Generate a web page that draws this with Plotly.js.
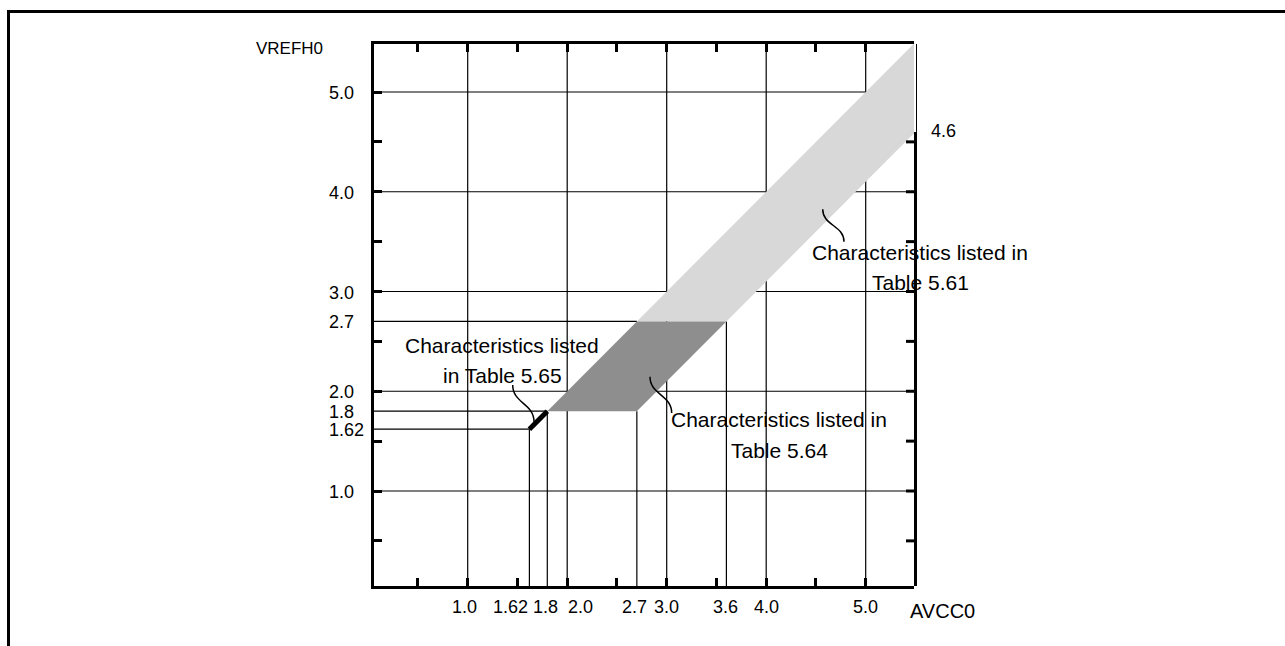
<!DOCTYPE html>
<html>
<head>
<meta charset="utf-8">
<script src="https://cdn.plot.ly/plotly-3.0.1.min.js"></script>
<style>html,body{margin:0;padding:0;background:#fff;}#chart{width:1285px;height:646px;}</style>
</head>
<body>
<div id="chart"></div>
<script>
// ---- data ----
const lightBandX = [2.7, 5.5, 5.5, 3.6];   // Table 5.61 region (AVCC0)
const lightBandY = [2.7, 5.5, 4.6, 2.7];   // (VREFH0)
const darkBandX  = [1.8, 2.7, 3.6, 2.7];   // Table 5.64 region
const darkBandY  = [1.8, 2.7, 2.7, 1.8];
const lineX      = [1.62, 1.8];            // Table 5.65 segment
const lineY      = [1.62, 1.8];

const gridVals   = [1, 2, 3, 4, 5];
const minorTicks = [0.5, 1, 1.5, 2, 2.5, 3, 3.5, 4, 4.5, 5];
const rightTicks = [0.5, 1, 1.5, 2, 2.5, 3, 3.5, 4, 4.5];
const vRefX      = [1.62, 1.8, 2.7, 3.6];  // vertical reference lines
const vRefTop    = [1.62, 1.8, 1.8, 2.7];
const hRefY      = [1.62, 1.8, 2.7];       // horizontal reference lines
const hRefEnd    = [1.62, 1.8, 2.7];
const rightBreak = 4.6;

const xTickVals  = [1, 1.62, 1.8, 2, 2.7, 3, 3.6, 4, 5];
const xTickText  = ['1.0', '1.62', '1.8', '2.0', '2.7', '3.0', '3.6', '4.0', '5.0'];
const yTickVals  = [5, 4, 3, 2.7, 2, 1.8, 1.62, 1];
const yTickText  = ['5.0', '4.0', '3.0', '2.7', '2.0', '1.8', '1.62', '1.0'];

const noteLines = [
  ['Characteristics listed in', 'Table 5.61'],
  ['Characteristics listed', 'in Table 5.65'],
  ['Characteristics listed in', 'Table 5.64']
];

// ---- layout geometry (pixels) ----
const W = 1285, H = 646;
const M = {l: 374, r: 371, t: 44, b: 60};
const XR = [0.0583, 5.4854];
const YR = [0.0476, 5.4812];
const PW = W - M.l - M.r, PH = H - M.t - M.b;
const px2x = p => XR[0] + (p - M.l) * (XR[1] - XR[0]) / PW;
const py2y = p => YR[1] - (p - M.t) * (YR[1] - YR[0]) / PH;
const px2paper = p => (p - M.l) / PW;
const py2paper = p => (H - M.b - p) / PH;

const FONT = '"Liberation Sans", Arial, Helvetica, sans-serif';

// leader curves, pixel anchors (start near label -> end on region)
const leaders = [
  [[822.7, 209.3], [844, 241.7]],
  [[512.7, 385], [534, 421.7]],
  [[650, 376.7], [671.7, 413]]
];
const notePos = [
  [[920, 252], [920, 282]],
  [[502, 345], [502, 375]],
  [[779, 420], [779, 450]]
];
const xLabelShift = [-3.5, -19, -2, 13, -2, 0, -1, 0, 0];

// ---- traces ----
const traces = [
  {x: lightBandX, y: lightBandY, type: 'scatter', mode: 'lines', fill: 'toself',
   fillcolor: '#d8d8d8', line: {width: 0, color: '#d8d8d8'}, hoverinfo: 'skip'},
  {x: darkBandX, y: darkBandY, type: 'scatter', mode: 'lines', fill: 'toself',
   fillcolor: '#8e8e8e', line: {width: 0, color: '#8e8e8e'}, hoverinfo: 'skip'},
  {x: lineX, y: lineY, type: 'scatter', mode: 'lines',
   line: {width: 5, color: '#000'}, hoverinfo: 'skip'}
];

// ---- shapes ----
const shapes = [];
gridVals.forEach(v => {
  shapes.push({type: 'line', xref: 'x', yref: 'paper', x0: v, x1: v, y0: 0, y1: 1, layer: 'below', line: {color: '#000', width: 1.2}});
  shapes.push({type: 'line', xref: 'paper', yref: 'y', x0: 0, x1: 1, y0: v, y1: v, layer: 'below', line: {color: '#000', width: 1.2}});
});
vRefX.forEach((v, i) => shapes.push({type: 'line', xref: 'x', yref: 'y', x0: v, x1: v, y0: YR[0], y1: vRefTop[i], layer: 'below', line: {color: '#000', width: 1.2}}));
hRefY.forEach((v, i) => shapes.push({type: 'line', xref: 'x', yref: 'y', x0: XR[0], x1: hRefEnd[i], y0: v, y1: v, layer: 'below', line: {color: '#000', width: 1.2}}));

// right axis (thick below 4.6, thin above)
shapes.push({type: 'line', xref: 'paper', yref: 'y', xsizemode: 'pixel', xanchor: 1, x0: 1.5, x1: 1.5, y0: YR[0] - 0.02, y1: rightBreak, line: {color: '#000', width: 3}});
shapes.push({type: 'line', xref: 'paper', yref: 'y', xsizemode: 'pixel', xanchor: 1, x0: 2.5, x1: 2.5, y0: rightBreak, y1: YR[1] + 0.04, line: {color: '#000', width: 1}});
rightTicks.forEach(v => shapes.push({type: 'line', xref: 'paper', yref: 'y', xsizemode: 'pixel', xanchor: 1, x0: -8, x1: 0, y0: v, y1: v, line: {color: '#000', width: 3}}));

// leader curves
leaders.forEach(([a, b]) => {
  const x0 = px2x(a[0]), y0 = py2y(a[1]), x1 = px2x(b[0]), y1 = py2y(b[1]);
  const ym = (y0 + y1) / 2;
  shapes.push({type: 'path', xref: 'x', yref: 'y', layer: 'above',
    path: `M ${x0},${y0} C ${x0},${ym} ${x1},${ym} ${x1},${y1}`,
    line: {color: '#000', width: 1.5}});
});

// outer frame (top and left)
shapes.push({type: 'line', xref: 'paper', yref: 'paper', x0: px2paper(7), x1: px2paper(1285), y0: py2paper(11.5), y1: py2paper(11.5), line: {color: '#000', width: 3}});
shapes.push({type: 'line', xref: 'paper', yref: 'paper', x0: px2paper(8.5), x1: px2paper(8.5), y0: py2paper(10), y1: py2paper(646), line: {color: '#000', width: 3}});

// ---- annotations ----
const ann = [];
xTickVals.forEach((v, i) => ann.push({x: v, y: 0, xref: 'x', yref: 'paper', text: xTickText[i], showarrow: false,
  xanchor: 'center', yanchor: 'middle', xshift: xLabelShift[i], yshift: -21, font: {family: FONT, size: 18, color: '#000'}}));
yTickVals.forEach((v, i) => ann.push({x: 0, y: v, xref: 'paper', yref: 'y', text: yTickText[i], showarrow: false,
  xanchor: 'left', yanchor: 'middle', xshift: -47, yshift: -1, font: {family: FONT, size: 18, color: '#000'}}));
ann.push({x: 0, y: py2y(48), xref: 'paper', yref: 'y', text: 'VREFH0', showarrow: false, xanchor: 'right', yanchor: 'middle', xshift: -49, font: {family: FONT, size: 17, color: '#000'}});
ann.push({x: 1, y: 0, xref: 'paper', yref: 'paper', text: 'AVCC0', showarrow: false, xanchor: 'left', yanchor: 'middle', xshift: -6, yshift: -24.5, font: {family: FONT, size: 20, color: '#000'}});
ann.push({x: 1, y: rightBreak, xref: 'paper', yref: 'y', text: '4.6', showarrow: false, xanchor: 'left', yanchor: 'middle', xshift: 15, yshift: 1, font: {family: FONT, size: 18, color: '#000'}});
noteLines.forEach((lines, i) => lines.forEach((t, j) => ann.push({
  x: px2paper(notePos[i][j][0]), y: py2paper(notePos[i][j][1]), xref: 'paper', yref: 'paper', text: t, showarrow: false,
  xanchor: 'center', yanchor: 'middle', font: {family: FONT, size: 21, color: '#000'}})));

const axisCommon = {showgrid: false, zeroline: false, showline: true, linecolor: '#000', linewidth: 3,
  ticks: 'inside', ticklen: 8, tickwidth: 3, tickcolor: '#000', tickvals: minorTicks, showticklabels: false, fixedrange: true};

const layout = {
  width: W, height: H, margin: M, paper_bgcolor: '#fff', plot_bgcolor: '#fff', showlegend: false,
  xaxis: Object.assign({}, axisCommon, {range: XR, mirror: 'ticks'}),
  yaxis: Object.assign({}, axisCommon, {range: YR, mirror: false}),
  shapes: shapes, annotations: ann, font: {family: FONT, color: '#000'}
};

Plotly.newPlot('chart', traces, layout, {displayModeBar: false, staticPlot: true});
</script>
</body>
</html>
